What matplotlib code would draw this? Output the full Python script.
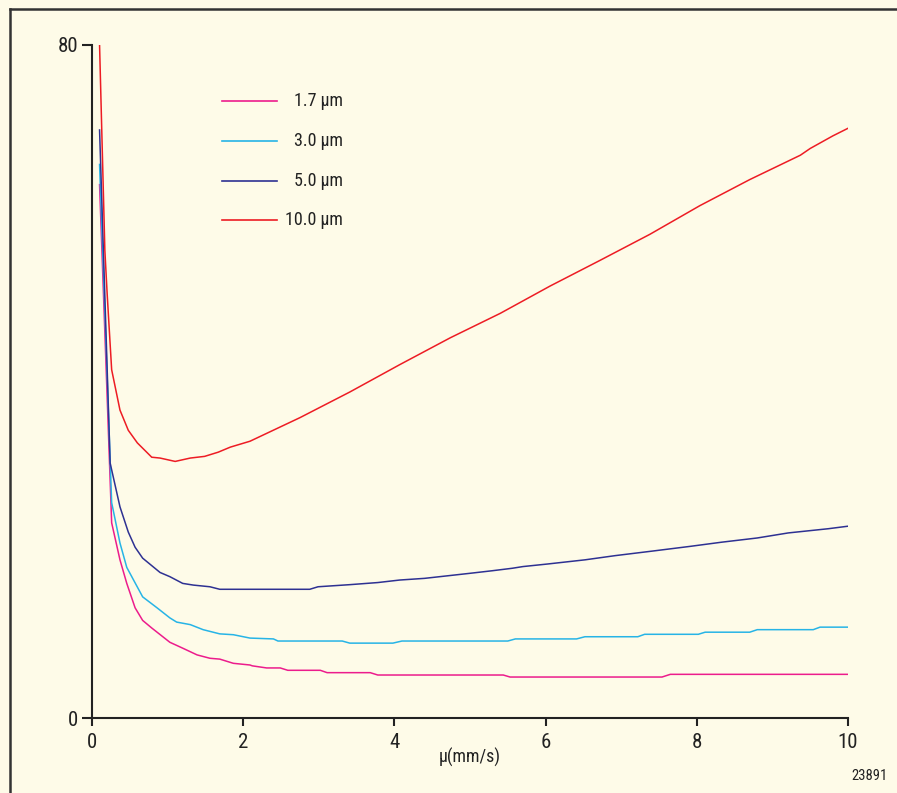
import matplotlib
matplotlib.use("Agg")
import matplotlib.pyplot as plt
from matplotlib.lines import Line2D
from matplotlib import font_manager as fm

# Pick a narrow sans face if one is installed, otherwise fall back to DejaVu Sans
def pick_narrow_font():
    prefs = ['Liberation Sans Narrow', 'Roboto Condensed', 'DejaVu Sans Condensed',
             'Open Sans Condensed', 'Noto Sans Condensed']
    fonts = [f for f in fm.fontManager.ttflist
             if f.style == 'normal' and f.weight in (400, 'normal', 'regular', 'book')]
    for p in prefs:
        for f in fonts:
            if f.name == p or p.replace(' ', '') in f.fname.replace('-', '').replace('_', ''):
                if 'Bold' in f.fname or 'Italic' in f.fname or 'Oblique' in f.fname:
                    continue
                return fm.FontProperties(fname=f.fname)
    for f in fonts:
        if f.stretch in ('condensed', 'semi-condensed', 'extra-condensed') or \
                'Narrow' in f.fname or 'Condensed' in f.fname:
            if 'Bold' in f.fname or 'Italic' in f.fname or 'Oblique' in f.fname:
                continue
            return fm.FontProperties(fname=f.fname)
    return fm.FontProperties(family='DejaVu Sans')

FP = pick_narrow_font()

# Curves: x in mm/s, y values
x_17 = [0.10, 0.26, 0.37, 0.46, 0.57, 0.67, 0.79, 1.03, 1.20, 1.39, 1.56, 1.69, 1.87, 2.09,
        2.12, 2.31, 2.49, 2.59, 3.02, 3.11, 3.68, 3.78, 5.44, 5.53, 7.54, 7.65, 10.0]
y_17 = [63.4, 23.2, 18.8, 16.0, 13.1, 11.6, 10.7, 9.0, 8.3, 7.5, 7.1, 7.0, 6.5, 6.3,
        6.2, 5.95, 5.95, 5.67, 5.67, 5.39, 5.39, 5.11, 5.11, 4.87, 4.87, 5.19, 5.19]

x_30 = [0.10, 0.26, 0.37, 0.46, 0.67, 0.86, 1.03, 1.12, 1.30, 1.47, 1.69, 1.87, 2.09,
        2.40, 2.46, 3.31, 3.41, 3.98, 4.10, 5.50, 5.60, 6.41, 6.52, 7.22, 7.31, 8.02,
        8.11, 8.70, 8.80, 9.54, 9.63, 10.0]
y_30 = [65.8, 25.6, 20.8, 17.9, 14.4, 13.1, 11.9, 11.4, 11.1, 10.5, 10.0, 9.9, 9.5,
        9.4, 9.15, 9.15, 8.9, 8.9, 9.15, 9.15, 9.4, 9.4, 9.66, 9.66, 9.95, 9.95,
        10.2, 10.2, 10.5, 10.5, 10.8, 10.8]

x_50 = [0.10, 0.24, 0.37, 0.48, 0.57, 0.67, 0.90, 1.03, 1.20, 1.34, 1.56, 1.69, 2.09,
        2.88, 2.99, 3.41, 3.78, 4.07, 4.40, 4.70, 5.00, 5.29, 5.56, 5.70, 6.02, 6.52,
        6.92, 7.42, 7.91, 8.33, 8.80, 9.21, 9.74, 10.0]
y_50 = [69.9, 30.3, 25.1, 22.1, 20.3, 19.0, 17.3, 16.8, 16.0, 15.8, 15.6, 15.3, 15.3,
        15.3, 15.6, 15.85, 16.1, 16.4, 16.6, 16.9, 17.2, 17.5, 17.8, 18.0, 18.3, 18.8,
        19.3, 19.85, 20.4, 20.9, 21.4, 22.0, 22.5, 22.8]

x_100 = [0.10, 0.17, 0.20, 0.26, 0.37, 0.48, 0.60, 0.79, 0.90, 1.10, 1.30, 1.49, 1.67,
         1.83, 2.09, 2.75, 3.41, 4.07, 4.74, 5.40, 6.06, 6.72, 7.38, 8.04, 8.70, 9.37,
         9.50, 9.80, 10.0]
y_100 = [80.0, 55.6, 50.5, 41.4, 36.6, 34.2, 32.7, 31.0, 30.9, 30.5, 30.9, 31.1, 31.6,
         32.2, 32.9, 35.7, 38.75, 42.0, 45.2, 48.1, 51.35, 54.4, 57.5, 60.9, 64.0, 66.9,
         67.7, 69.2, 70.1]

labels = ['1.7 µm', '3.0 µm', '5.0 µm', '10.0 µm']
colors = ['#ec1c8c', '#27b4e6', '#2e3192', '#ed1c24']
x_ticks = [0, 2, 4, 6, 8, 10]
y_ticks = [0, 80]

bg = '#fefbe8'
ink = '#222222'
fig = plt.figure(figsize=(8.97, 7.93), dpi=100, facecolor=bg)
ax = fig.add_axes([92/897, 1 - 718/793, (848 - 92)/897, (718 - 45)/793])
ax.set_facecolor(bg)

series = [(x_17, y_17), (x_30, y_30), (x_50, y_50), (x_100, y_100)]
for (xs, ys), c in zip(series, colors):
    ax.plot(xs, ys, color=c, lw=1.1, solid_joinstyle='miter')

ax.set_xlim(0, 10)
ax.set_ylim(0, 80)
ax.set_xticks(x_ticks)
ax.set_yticks(y_ticks)
ax.tick_params(axis='x', direction='out', length=6, width=1.5, colors=ink, pad=5)
ax.tick_params(axis='y', direction='out', length=7, width=1.5, colors=ink, pad=3)
for lbl in ax.get_xticklabels() + ax.get_yticklabels():
    lbl.set_fontproperties(FP)
    lbl.set_fontsize(15)
for s in ['top', 'right']:
    ax.spines[s].set_visible(False)
for s in ['left', 'bottom']:
    ax.spines[s].set_linewidth(1.5)
    ax.spines[s].set_color(ink)

ax.text(0.5, -0.059, 'µ(mm/s)', transform=ax.transAxes, ha='center', va='center',
        fontproperties=FP, fontsize=13, color=ink)

# Legend drawn by hand: short line + right-aligned label
leg_y = [101, 141, 181, 220]
for yy, lab, c in zip(leg_y, labels, colors):
    yf = 1 - yy / 793
    fig.add_artist(Line2D([222/897, 277/897], [yf, yf], color=c, lw=1.2))
    fig.text(343/897, yf, lab, ha='right', va='center', fontproperties=FP,
             fontsize=13, color=ink)

fig.text(888/897, 1 - 776/793, '23891', ha='right', va='center', fontproperties=FP,
         fontsize=10.5, color=ink)

# Frame lines on the left and top
fig.add_artist(Line2D([10/897, 10/897], [0, 1 - 9/793], color='#333333', lw=1.8))
fig.add_artist(Line2D([10/897, 1], [1 - 9/793, 1 - 9/793], color='#333333', lw=1.8))

fig.savefig('out.png', dpi=100, facecolor=bg)
